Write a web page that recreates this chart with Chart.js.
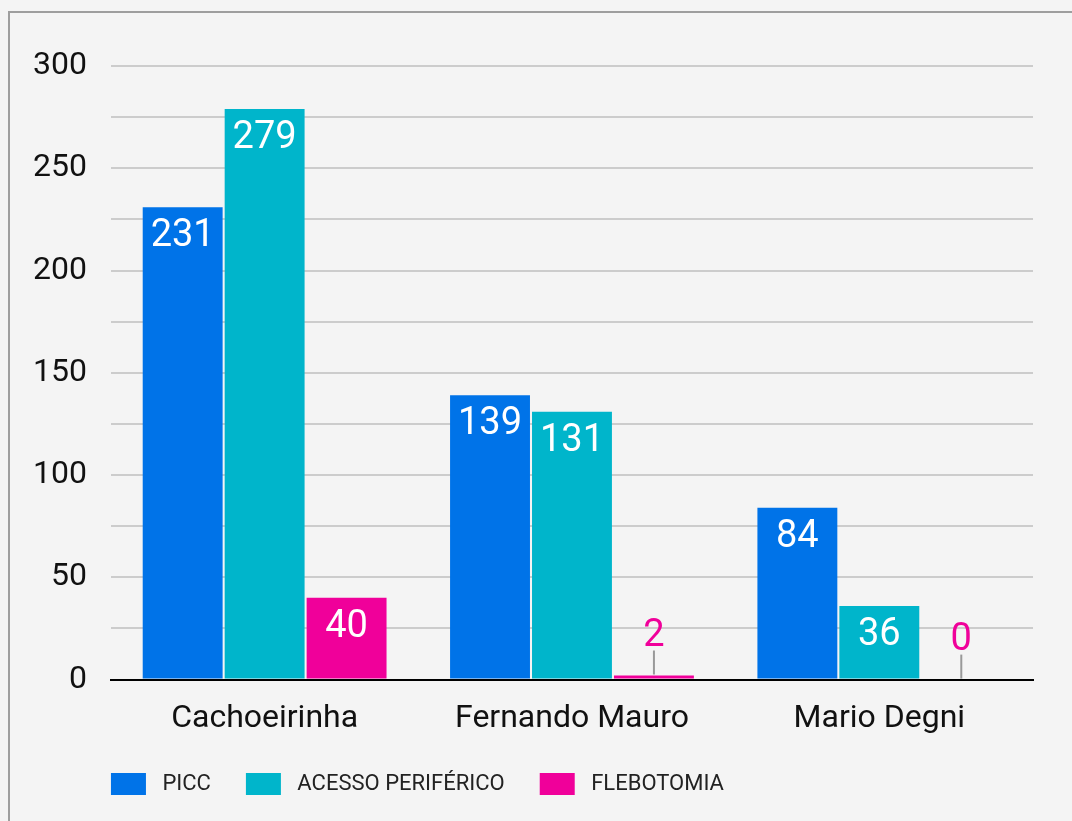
<!DOCTYPE html>
<html>
<head>
<meta charset="utf-8">
<script src="https://cdn.jsdelivr.net/npm/chart.js"></script>
<style>
  html, body { margin: 0; padding: 0; background: #f4f4f4; }
  #wrap { position: relative; width: 1072px; height: 821px; overflow: hidden; }
  #frame { position: absolute; left: 8px; top: 11px; width: 1200px; height: 900px; border: 2px solid #9e9e9e; box-sizing: border-box; }
  #holder { position: absolute; left: 0; top: 0; width: 1072px; height: 821px; }
</style>
</head>
<body>
<div id="wrap">
  <div id="frame"></div>
  <div id="holder"><canvas id="chart"></canvas></div>
</div>
<script>
// chart data
const categories = ['Cachoeirinha', 'Fernando Mauro', 'Mario Degni'];
const seriesNames = ['PICC', 'ACESSO PERIFÉRICO', 'FLEBOTOMIA'];
const picc = [231, 139, 84];
const acesso = [279, 131, 36];
const flebotomia = [40, 2, 0];
const yMax = 300;
const yStep = 25;

const colors = ['#0073e8', '#00b5cb', '#f0009a'];

// value labels: inside the top of the bar, or above with a leader line when the bar is short
const barLabels = {
    id: 'barLabels',
    afterDatasetsDraw(chart) {
        const ctx = chart.ctx;
        ctx.save();
        ctx.font = '38px Roboto';
        ctx.textAlign = 'center';
        ctx.textBaseline = 'alphabetic';
        chart.data.datasets.forEach((ds, i) => {
            const meta = chart.getDatasetMeta(i);
            meta.data.forEach((bar, j) => {
                const v = ds.data[j];
                const h = bar.base - bar.y;
                if (h > 50) {
                    ctx.fillStyle = '#ffffff';
                    ctx.fillText(String(v), bar.x, bar.y + 39);
                } else {
                    ctx.strokeStyle = '#999999';
                    ctx.lineWidth = 2;
                    ctx.beginPath();
                    ctx.moveTo(bar.x, bar.y - 1);
                    ctx.lineTo(bar.x, bar.y - 25);
                    ctx.stroke();
                    ctx.fillStyle = ds.backgroundColor;
                    ctx.fillText(String(v), bar.x, bar.y - 30);
                }
            });
        });
        ctx.restore();
    }
};

// line the legend up with the left edge of the plot and pull it a bit closer
const legendShift = {
    id: 'legendShift',
    afterLayout(chart) {
        const lg = chart.legend;
        const p = lg.options.labels.padding;
        lg.left -= p;
        lg.right -= p;
        lg.top -= 12;
        lg.bottom -= 12;
    }
};

const ctx = document.getElementById('chart').getContext('2d');
const chart = new Chart(ctx, {
    type: 'bar',
    data: {
        labels: categories,
        datasets: [
            { label: seriesNames[0], data: picc, backgroundColor: colors[0] },
            { label: seriesNames[1], data: acesso, backgroundColor: colors[1] },
            { label: seriesNames[2], data: flebotomia, backgroundColor: colors[2] }
        ]
    },
    options: {
        responsive: true,
        maintainAspectRatio: false,
        animation: false,
        categoryPercentage: 0.8,
        barPercentage: 0.975,
        layout: {
            padding: { left: 9, right: 39, top: 66, bottom: 4 }
        },
        plugins: {
            legend: {
                position: 'bottom',
                align: 'start',
                fullSize: false,
                labels: {
                    boxWidth: 35,
                    boxHeight: 22,
                    padding: 35,
                    color: '#222222',
                    font: { family: 'Roboto', size: 22 },
                    generateLabels: function(chart) {
                        const items = Chart.defaults.plugins.legend.labels.generateLabels(chart);
                        // a little more room between swatch and text
                        items.forEach(it => { it.text = ' ' + it.text; });
                        return items;
                    }
                }
            },
            tooltip: { enabled: false },
            title: { display: false }
        },
        scales: {
            x: {
                grid: { display: false },
                border: { color: '#000000', width: 2 },
                ticks: {
                    color: '#111111',
                    padding: 12,
                    font: { family: 'Roboto', size: 32 }
                }
            },
            y: {
                min: 0,
                max: yMax,
                border: { display: false },
                grid: { color: '#cccccc', lineWidth: 2, drawTicks: false },
                ticks: {
                    stepSize: yStep,
                    padding: 24,
                    color: '#111111',
                    font: { family: 'Roboto', size: 32 },
                    callback: function(value) {
                        return value % 50 === 0 ? value : '';
                    }
                }
            }
        }
    },
    plugins: [barLabels, legendShift]
});
</script>
</body>
</html>
